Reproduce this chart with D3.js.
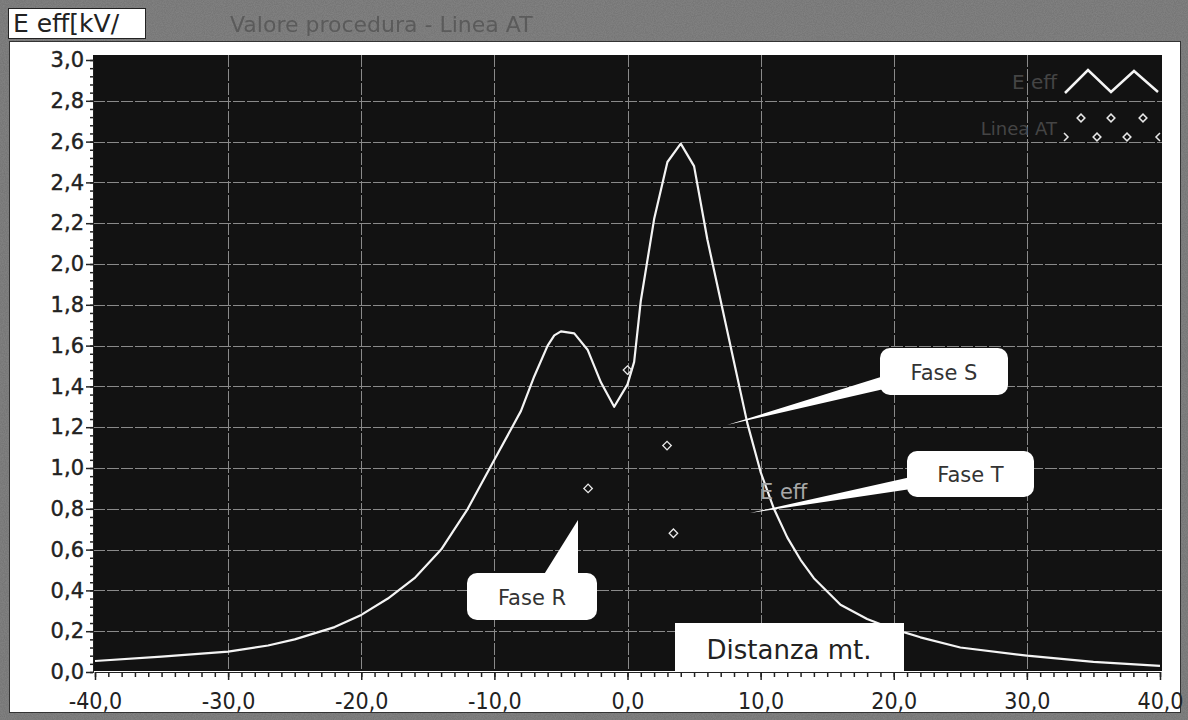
<!DOCTYPE html>
<html><head><meta charset="utf-8">
<script src="https://cdn.jsdelivr.net/npm/d3@7"></script>
<style>
html,body{margin:0;padding:0;background:#808080;}
svg{display:block;}
</style></head>
<body>
<svg id="chart" width="1188" height="720"></svg>
<script>
// ---- data ----
const distance = [-40,-35,-30,-27,-25,-22,-20,-18,-16,-14,-12,-10,-8,-7,-6,-5.5,-5,-4,-3,-2,-1,0,0.5,1,2,3,4,5,6,7,8,9,10,11,12,13,14,16,18,20,22,25,30,35,40];
const eEff     = [0.054,0.075,0.10,0.13,0.16,0.22,0.28,0.36,0.46,0.60,0.80,1.04,1.28,1.45,1.60,1.65,1.67,1.66,1.58,1.42,1.30,1.41,1.52,1.82,2.22,2.50,2.59,2.48,2.12,1.82,1.52,1.22,0.98,0.80,0.66,0.55,0.46,0.33,0.26,0.21,0.17,0.12,0.08,0.05,0.03];
const lineaX   = [0, 2.97, -2.96, 3.45];
const lineaY   = [1.48, 1.11, 0.90, 0.68];
const yTicks   = [0,0.2,0.4,0.6,0.8,1.0,1.2,1.4,1.6,1.8,2.0,2.2,2.4,2.6,2.8,3.0];
const xTicks   = [-40,-30,-20,-10,0,10,20,30,40];
const seriesNames = ["E eff","Linea AT"];
const titleBox = "E eff[kV/";
const titleText = "Valore procedura - Linea AT";
const xAxisTitle = "Distanza mt.";
const phaseLabels = ["Fase S","Fase T","Fase R"];

const svg = d3.select("#chart");
const fmt = v => v.toFixed(1).replace(".", ",");

// texture filter for window frame
const defs = svg.append("defs");
const f = defs.append("filter").attr("id","grain").attr("x",0).attr("y",0).attr("width","100%").attr("height","100%");
f.append("feTurbulence").attr("type","fractalNoise").attr("baseFrequency",0.9).attr("numOctaves",2).attr("seed",3).attr("result","n");
f.append("feColorMatrix").attr("type","matrix")
 .attr("values","0 0 0 0 0.5  0 0 0 0 0.5  0 0 0 0 0.5  0 0 0 0.6 0").attr("in","n").attr("result","g");
f.append("feComposite").attr("in","g").attr("in2","SourceGraphic").attr("operator","in").attr("result","g2");
f.append("feBlend").attr("in","SourceGraphic").attr("in2","g2").attr("mode","multiply");

// frame
svg.append("rect").attr("x",0).attr("y",0).attr("width",1188).attr("height",720).attr("fill","#858585").attr("filter","url(#grain)");
svg.append("rect").attr("x",9.5).attr("y",41.5).attr("width",1171).attr("height",671).attr("fill","#ffffff").attr("stroke","#333").attr("stroke-width",1);
// title box
svg.append("rect").attr("x",8.5).attr("y",8.5).attr("width",137).attr("height",30).attr("fill","#fff").attr("stroke","#222");
svg.append("text").attr("x",13).attr("y",32).attr("font-family","DejaVu Sans, Verdana, sans-serif").attr("font-size",25).attr("fill","#222").text(titleBox);
svg.append("text").attr("x",230).attr("y",32).attr("font-family","DejaVu Sans, sans-serif").attr("font-size",22).attr("fill","#505050").attr("opacity",0.75).text(titleText);

// scales
const x = d3.scaleLinear().domain([-40,40]).range([95,1160]);
const y = d3.scaleLinear().domain([0,3]).range([672,60]);

// plot background
svg.append("rect").attr("x",93).attr("y",55).attr("width",1069).attr("height",616).attr("fill","#121212");

// grid
const grid = svg.append("g").attr("stroke","#bdbdbd").attr("stroke-width",1).attr("stroke-dasharray","12,2").attr("opacity",0.7);
grid.selectAll("line.h").data(yTicks.filter(v=>v>0&&v<3)).join("line")
  .attr("x1",93).attr("x2",1162).attr("y1",d=>Math.round(y(d))+0.5).attr("y2",d=>Math.round(y(d))+0.5);
grid.selectAll("line.v").data(xTicks.filter(v=>v>-40&&v<40)).join("line")
  .attr("y1",55).attr("y2",671).attr("x1",d=>Math.round(x(d))+0.5).attr("x2",d=>Math.round(x(d))+0.5);

// axes
const yMinor = d3.range(0,3.0001,0.04);
const gy = svg.append("g").attr("transform","translate(93,0)");
gy.call(d3.axisLeft(y).tickValues(yMinor).tickSize(3).tickFormat(""));
gy.call(g=>g.append("g").call(d3.axisLeft(y).tickValues(yTicks).tickSize(7).tickFormat(fmt)));
gy.selectAll("path.domain").attr("stroke","#222");
gy.selectAll("line").attr("stroke","#222").attr("stroke-width",1.5);
gy.selectAll("text").attr("font-family","DejaVu Sans, Verdana, sans-serif").attr("font-size",21).attr("fill","#222")
  .attr("stroke","#222").attr("stroke-width",0.4).attr("x",-9);

const xMinor = d3.range(-40,40.0001,1);
const gx = svg.append("g").attr("transform","translate(0,672)");
gx.call(d3.axisBottom(x).tickValues(xMinor).tickSize(5).tickFormat(""));
gx.call(g=>g.append("g").call(d3.axisBottom(x).tickValues(xTicks).tickSize(8).tickFormat(fmt)));
gx.selectAll("path.domain").attr("stroke","#222");
gx.selectAll("line").attr("stroke","#222").attr("stroke-width",1.5);
gx.selectAll("text").attr("font-family","DejaVu Sans Condensed, DejaVu Sans, sans-serif").attr("font-size",23).attr("fill","#222")
  .attr("y",20).attr("dy","0.72em");

// curve
const pts = distance.map((d,i)=>[d,eEff[i]]);
svg.append("path").datum(pts).attr("fill","none").attr("stroke","#f4f4f4").attr("stroke-width",2.2)
  .attr("stroke-linejoin","round")
  .attr("d", d3.line().x(d=>x(d[0])).y(d=>y(d[1])));

// Linea AT markers
const sym = d3.symbol().type(d3.symbolSquare).size(36);
svg.selectAll("path.lat").data(lineaX.map((d,i)=>[d,lineaY[i]])).join("path")
  .attr("class","lat").attr("d",sym).attr("transform",d=>`translate(${x(d[0])},${y(d[1])}) rotate(45)`)
  .attr("fill","none").attr("stroke","#e8e8e8").attr("stroke-width",1.3);

// legend
const lg = svg.append("g");
lg.append("text").attr("x",1057).attr("y",89).attr("text-anchor","end").attr("font-family","DejaVu Sans, sans-serif").attr("font-size",20).attr("fill","#454545").text(seriesNames[0]);
lg.append("text").attr("x",1057).attr("y",135).attr("text-anchor","end").attr("font-family","DejaVu Sans, sans-serif").attr("font-size",18).attr("fill","#454545").text(seriesNames[1]);
lg.append("path").attr("d","M1065,93 L1088,70 L1111,92 L1134,71 L1158,92").attr("fill","none").attr("stroke","#f4f4f4").attr("stroke-width",2.5);
const lsym = d3.symbol().type(d3.symbolSquare).size(30);
[[1081,118],[1111,118],[1143,118],[1097,137],[1127,137]].forEach(p=>{
  lg.append("path").attr("d",lsym).attr("transform",`translate(${p[0]},${p[1]}) rotate(45)`).attr("fill","none").attr("stroke","#e8e8e8").attr("stroke-width",1.5);
});
lg.append("path").attr("d","M1064,133 L1068,137 L1064,141").attr("fill","none").attr("stroke","#e8e8e8").attr("stroke-width",1.5);
lg.append("path").attr("d","M1160,133 L1156,137 L1160,141").attr("fill","none").attr("stroke","#e8e8e8").attr("stroke-width",1.5);

// in-plot label
svg.append("text").attr("x",760).attr("y",499).attr("font-family","DejaVu Sans, sans-serif").attr("font-size",21).attr("fill","#a8a8a8").text(seriesNames[0]);

// callouts
function callout(bx,by,bw,bh,wedge,label){
  svg.append("path").attr("d",wedge).attr("fill","#fff");
  svg.append("rect").attr("x",bx).attr("y",by).attr("width",bw).attr("height",bh).attr("rx",10).attr("fill","#fff");
  svg.append("text").attr("x",bx+bw/2).attr("y",by+bh/2+8).attr("text-anchor","middle")
    .attr("font-family","DejaVu Sans, Verdana, sans-serif").attr("font-size",21).attr("fill","#333").text(label);
}
callout(880,348,128,47,"M884,376 L727,425 L884,389 Z",phaseLabels[0]);
callout(907,451,127,46,"M911,477 L750,513 L911,489 Z",phaseLabels[1]);
callout(467,573,130,47,"M543,576 L578,520 L578,576 Z",phaseLabels[2]);

// x axis title box
svg.append("rect").attr("x",675).attr("y",623).attr("width",229).attr("height",49).attr("fill","#fff");
svg.append("text").attr("x",789).attr("y",659).attr("text-anchor","middle").attr("font-family","DejaVu Sans, Verdana, sans-serif").attr("font-size",26).attr("fill","#222").text(xAxisTitle);
</script>
</body></html>
